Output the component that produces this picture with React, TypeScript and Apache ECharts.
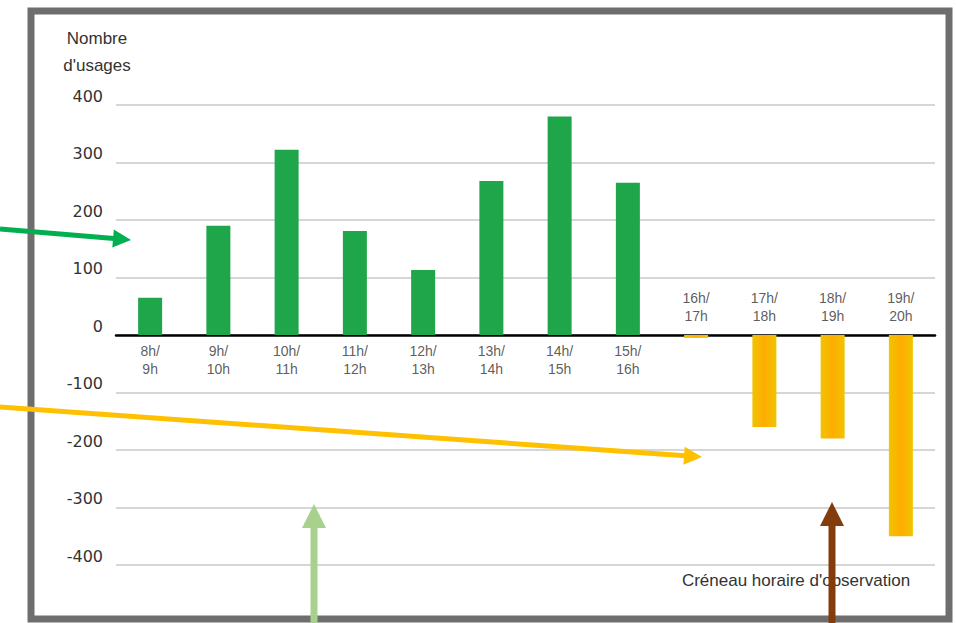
import React, { useEffect, useRef } from "react";
import * as echarts from "echarts";

const categories = ["8h/\n9h", "9h/\n10h", "10h/\n11h", "11h/\n12h", "12h/\n13h", "13h/\n14h", "14h/\n15h", "15h/\n16h", "16h/\n17h", "17h/\n18h", "18h/\n19h", "19h/\n20h"];
const usages = [65, 190, 322, 181, 113, 268, 380, 265, -5, -160, -180, -350];
const yTicks = { min: -400, max: 400, interval: 100 };
const yTitle = "Nombre\nd'usages";
const xTitle = "Créneau horaire d'observation";

const FONT = "Liberation Sans";
const TEXT = "#333333";

function arrow(x0: number, y0: number, x1: number, y1: number, color: string, lw: number, hl: number, hw: number) {
  const dx = x1 - x0, dy = y1 - y0;
  const len = Math.sqrt(dx * dx + dy * dy);
  const ux = dx / len, uy = dy / len;
  const nx = -uy, ny = ux;
  const bx = x1 - ux * hl, by = y1 - uy * hl;
  return [
    { type: "line", z: 100, shape: { x1: x0, y1: y0, x2: bx + ux, y2: by + uy }, style: { stroke: color, lineWidth: lw } },
    { type: "polygon", z: 100, shape: { points: [[x1, y1], [bx + nx * hw, by + ny * hw], [bx - nx * hw, by - ny * hw]] }, style: { fill: color } },
  ];
}

export default function App() {
  const ref = useRef<HTMLDivElement>(null);
  useEffect(() => {
    const chart = echarts.init(ref.current!, undefined, { renderer: "svg" });
    const green = "#1fa54a";
    const orange = new echarts.graphic.LinearGradient(0, 0, 1, 0, [
      { offset: 0, color: "#f0c400" },
      { offset: 0.5, color: "#ffac00" },
      { offset: 1, color: "#f0c400" },
    ]);
    const labelBase = {
      show: true,
      fontFamily: FONT,
      fontSize: 14,
      lineHeight: 18,
      color: TEXT,
      formatter: (p: any) => categories[p.dataIndex],
    };
    chart.setOption({
      animation: false,
      backgroundColor: "#ffffff",
      grid: { left: 116, right: 21, top: 105, bottom: 58 },
      xAxis: {
        type: "category",
        data: categories,
        axisLine: { onZero: true, lineStyle: { color: "#000", width: 2.5 } },
        axisTick: { show: false },
        axisLabel: { show: false },
      },
      yAxis: {
        type: "value",
        min: yTicks.min,
        max: yTicks.max,
        interval: yTicks.interval,
        axisLine: { show: false },
        axisTick: { show: false },
        splitLine: { lineStyle: { color: "#d6d6d6", width: 2 } },
        axisLabel: {
          margin: 13,
          fontFamily: "DejaVu Sans",
          fontSize: 16,
          color: TEXT,
          verticalAlign: "bottom",
          lineHeight: 18,
        },
      },
      series: [
        {
          type: "bar",
          barWidth: 24,
          data: usages.map((v) => ({ value: v, itemStyle: { color: v >= 0 ? green : orange } })),
        },
        {
          type: "scatter",
          symbolSize: 1,
          itemStyle: { color: "rgba(0,0,0,0)" },
          z: 5,
          data: usages.map((v, i) => ({
            value: [i, 0],
            label: { ...labelBase, position: v >= 0 ? "bottom" : "top", distance: v >= 0 ? 6 : 10 },
          })),
        },
      ],
      graphic: [
        { type: "rect", z: 50, shape: { x: 31, y: 11, width: 918, height: 608 }, style: { fill: "none", stroke: "#6e6e6e", lineWidth: 7 } },
        { type: "text", z: 60, x: 97, y: 52, style: { text: yTitle, font: `17px "${FONT}"`, fill: TEXT, align: "center", verticalAlign: "middle", lineHeight: 27 } },
        { type: "text", z: 60, x: 796, y: 580, style: { text: xTitle, font: `17px "${FONT}"`, fill: TEXT, align: "center", verticalAlign: "middle" } },
        ...arrow(0, 229, 131, 240, "#00b050", 5, 18, 9),
        ...arrow(0, 407, 702, 457, "#ffc000", 5, 18, 9),
        ...arrow(314, 623, 314, 504, "#a9d18e", 7, 24, 12),
        ...arrow(832, 623, 832, 502, "#843c0c", 7, 24, 12),
      ],
    });
    return () => chart.dispose();
  }, []);
  return <div ref={ref} style={{ position: "fixed", left: 0, top: 0, width: 956, height: 623 }} />;
}
